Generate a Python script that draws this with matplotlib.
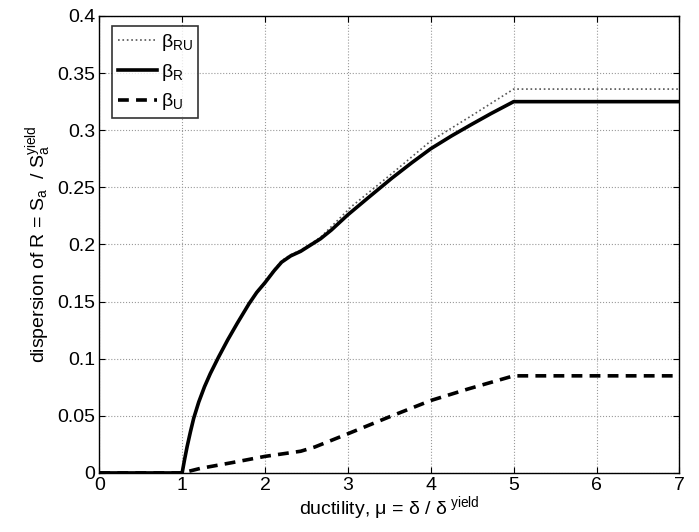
import matplotlib
matplotlib.use("Agg")
import matplotlib.pyplot as plt

# data
mu_r = [0, 1.0, 1.03, 1.06, 1.1, 1.14, 1.2, 1.27, 1.34, 1.44, 1.55, 1.665, 1.806, 1.9, 2.0, 2.11, 2.2, 2.31, 2.43, 2.55, 2.67,
        2.8, 3.0, 3.24, 3.53, 3.77, 4.0, 4.25, 4.49, 4.73, 5.0, 7.0]
beta_r = [0, 0, 0.012, 0.023, 0.036, 0.048, 0.062, 0.0755, 0.087, 0.1015, 0.1165, 0.131, 0.148, 0.158, 0.1666, 0.177, 0.1845,
          0.190, 0.194, 0.1995, 0.205, 0.2126, 0.226, 0.2406, 0.258, 0.2715, 0.2838, 0.295, 0.305, 0.3147, 0.325, 0.325]

mu_ru = [0, 1.0, 1.03, 1.06, 1.1, 1.14, 1.2, 1.27, 1.34, 1.44, 1.55, 1.665, 1.806, 1.9, 2.0, 2.11, 2.2, 2.31, 2.43, 2.55, 2.67,
         2.8, 3.04, 3.53, 4.0, 4.49, 5.0, 7.0]
beta_ru = [0, 0, 0.012, 0.023, 0.036, 0.048, 0.0621, 0.0757, 0.0873, 0.1019, 0.117, 0.1316, 0.1487, 0.1587, 0.1673, 0.178,
           0.1857, 0.191, 0.195, 0.2005, 0.2063, 0.2156, 0.233, 0.262, 0.2906, 0.3126, 0.336, 0.336]

mu_u = [0, 1.0, 1.22, 1.6, 2.0, 2.43, 2.6, 3.0, 3.49, 4.0, 4.45, 5.0, 7.0]
beta_u = [0, 0, 0.004, 0.009, 0.0145, 0.019, 0.0227, 0.0343, 0.0488, 0.0634, 0.0735, 0.085, 0.085]

plt.rcParams['font.family'] = ['Liberation Sans', 'DejaVu Sans']
plt.rcParams['mathtext.fontset'] = 'custom'
plt.rcParams['mathtext.rm'] = 'Liberation Sans'
plt.rcParams['mathtext.it'] = 'Liberation Sans'
plt.rcParams['mathtext.default'] = 'regular'

fig = plt.figure(figsize=(6.99, 5.32), dpi=100)
ax = fig.add_axes([0.142, 0.111, 0.830, 0.859])

ax.plot(mu_ru, beta_ru, color='#555555', linestyle=':', linewidth=1.2, label=r'$\beta_{RU}$')
ax.plot(mu_r, beta_r, color='black', linestyle='-', linewidth=2.6, label=r'$\beta_{R}$')
ax.plot(mu_u, beta_u, color='black', linestyle='--', linewidth=2.6, dashes=(3, 2), label=r'$\beta_{U}$')

ax.set_xlim(0, 7)
ax.set_ylim(0, 0.4)
ax.set_xticks(range(0, 8))
ax.set_yticks([0, 0.05, 0.1, 0.15, 0.2, 0.25, 0.3, 0.35, 0.4])
ax.set_yticklabels(['0', '0.05', '0.1', '0.15', '0.2', '0.25', '0.3', '0.35', '0.4'])
ax.tick_params(direction='in', top=True, right=True, labelsize=14, length=4, pad=3)
ax.grid(True, linestyle=':', color='#999999', linewidth=0.8)
for s in ax.spines.values():
    s.set_linewidth(1.0)

ax.set_xlabel(r'ductility, $\mu$ = $\delta$ / $\delta^{\ yield}$', fontsize=14, labelpad=0)
ax.set_ylabel(r'dispersion of R = S$_a$  / S$_a^{yield}$', fontsize=14, labelpad=2)

leg = ax.legend(loc='upper left', fontsize=14, frameon=True, fancybox=False, edgecolor='black',
                handlelength=2.0, handletextpad=0.2, borderpad=0.3, labelspacing=0.45,
                borderaxespad=0, bbox_to_anchor=(0.022, 0.978))
leg.get_frame().set_linewidth(1.2)

plt.savefig('out.png', dpi=100)
